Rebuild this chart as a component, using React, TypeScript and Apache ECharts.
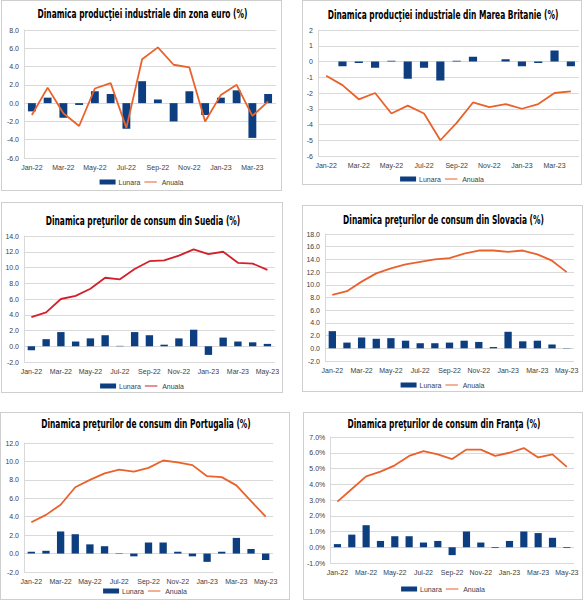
import { useEffect, useRef } from 'react';
import * as echarts from 'echarts';

const months16 = ['Jan-22', 'Feb-22', 'Mar-22', 'Apr-22', 'May-22', 'Jun-22', 'Jul-22', 'Aug-22', 'Sep-22', 'Oct-22', 'Nov-22', 'Dec-22', 'Jan-23', 'Feb-23', 'Mar-23', 'Apr-23'];
const months17 = [...months16, 'May-23'];

// zona euro - productie industriala
const euroLunara = [-0.9, 0.6, -1.6, -0.2, 1.3, 1.0, -2.8, 2.4, 0.4, -2.0, 1.3, -1.3, 0.6, 1.4, -3.8, 1.0];
const euroAnuala = [-1.3, 1.7, -1.1, -2.5, 1.6, 2.2, -2.7, 4.8, 6.1, 4.2, 3.9, -2.0, 0.9, 2.0, -1.4, 0.2];

// Marea Britanie - productie industriala
const ukLunara = [0, -0.3, -0.1, -0.4, 0.05, -1.1, -0.4, -1.2, 0.05, 0.3, 0, 0.15, -0.3, -0.1, 0.7, -0.3];
const ukAnuala = [-0.9, -1.5, -2.4, -2.0, -3.3, -2.8, -3.3, -5.0, -3.9, -2.6, -2.9, -2.7, -3.0, -2.7, -2.0, -1.9];

// Suedia - preturi de consum
const seLunara = [-0.5, 0.9, 1.8, 0.6, 1.0, 1.4, 0.05, 1.8, 1.4, 0.2, 1.0, 2.1, -1.1, 1.1, 0.6, 0.5, 0.3];
const seAnuala = [3.7, 4.3, 6.0, 6.4, 7.3, 8.7, 8.5, 9.8, 10.8, 10.9, 11.5, 12.3, 11.7, 12.0, 10.6, 10.5, 9.7];

// Slovacia - preturi de consum
const skLunara = [2.7, 0.9, 1.7, 1.5, 1.6, 1.2, 0.8, 0.8, 0.9, 1.2, 1.0, 0.2, 2.6, 1.1, 1.2, 0.6, 0.05];
const skAnuala = [8.4, 9.0, 10.5, 11.8, 12.6, 13.2, 13.6, 14.0, 14.2, 14.9, 15.4, 15.4, 15.2, 15.4, 14.8, 13.8, 12.0];

// Portugalia - preturi de consum
const ptLunara = [0.2, 0.3, 2.4, 2.1, 1.0, 0.8, -0.05, -0.3, 1.2, 1.2, 0.2, -0.3, -0.9, 0.2, 1.7, 0.5, -0.7];
const ptAnuala = [3.4, 4.2, 5.3, 7.2, 8.0, 8.7, 9.1, 8.9, 9.3, 10.1, 9.9, 9.6, 8.4, 8.3, 7.4, 5.7, 4.0];

// Franta - preturi de consum (%)
const frLunara = [0.2, 0.8, 1.4, 0.4, 0.7, 0.7, 0.3, 0.4, -0.5, 1.0, 0.3, -0.05, 0.4, 1.0, 0.9, 0.6, -0.05];
const frAnuala = [2.9, 3.7, 4.5, 4.8, 5.2, 5.8, 6.1, 5.9, 5.6, 6.2, 6.2, 5.8, 6.0, 6.3, 5.7, 5.9, 5.1];

const BAR_COLOR = '#0d3f80';
const ORANGE = '#e9622c';
const RED = '#d2202c';
const LABEL = '#404040';
const GRIDLINE = '#d9d9d9';
const FONT = '"Liberation Sans", Arial, sans-serif';
// thin horizontal stroke for the line legend entry (padded with empty moves)
const LINE_ICON = 'path://M0,0L0.01,0M0,3.2L20,3.2L20,4.8L0,4.8ZM0,8L0.01,8';

interface PanelProps {
  title: string;
  months: string[];
  lunara: number[];
  anuala: number[];
  lineColor: string;
  min: number;
  max: number;
  step: number;
  fmt: (v: number) => string;
  box: { left: number; top: number; width: number; height: number };
  grid: { left: number; top: number; width: number; height: number };
  titleY: number;
  legendY: number;
}

function Panel(p: PanelProps) {
  const ref = useRef<HTMLDivElement>(null);

  useEffect(() => {
    if (!ref.current) return;
    const chart = echarts.init(ref.current, undefined, { renderer: 'svg' });
    chart.setOption({
      animation: false,
      graphic: [
        {
          type: 'text',
          x: p.box.width / 2,
          y: p.titleY,
          scaleX: 0.64,
          style: {
            text: p.title,
            align: 'center',
            verticalAlign: 'middle',
            fontFamily: '"Liberation Sans Narrow", "DejaVu Sans Condensed", sans-serif',
            fontWeight: 'bold',
            fontSize: 13,
            fill: '#000',
          },
        },
      ],
      grid: { ...p.grid, containLabel: false },
      legend: {
        top: p.legendY - 4.5,
        left: 'center',
        padding: 0,
        itemWidth: 16,
        itemHeight: 5,
        itemGap: 4,
        textStyle: { fontSize: 7, color: LABEL, fontFamily: FONT, padding: [0, 0, 0, -2] },
        data: [
          { name: 'Lunara', icon: 'rect' },
          { name: 'Anuala', icon: LINE_ICON },
        ],
      },
      xAxis: {
        type: 'category',
        data: p.months,
        axisLine: { show: false },
        axisTick: { show: false },
        axisLabel: { interval: 1, fontSize: 7, color: LABEL, fontFamily: FONT, margin: 6 },
      },
      yAxis: {
        type: 'value',
        min: p.min,
        max: p.max,
        interval: p.step,
        axisLine: { show: true, lineStyle: { color: GRIDLINE } },
        axisTick: { show: false },
        splitLine: { lineStyle: { color: GRIDLINE, width: 1 } },
        axisLabel: { fontSize: 7, color: LABEL, fontFamily: FONT, margin: 5, formatter: p.fmt },
      },
      series: [
        {
          name: 'Lunara',
          type: 'bar',
          data: p.lunara,
          barWidth: '50%',
          itemStyle: { color: BAR_COLOR },
        },
        {
          name: 'Anuala',
          type: 'line',
          data: p.anuala,
          symbol: 'none',
          lineStyle: { color: p.lineColor, width: 1.8 },
          itemStyle: { color: p.lineColor },
        },
      ],
    });
    return () => chart.dispose();
  }, [p]);

  return (
    <div
      style={{
        position: 'absolute',
        left: p.box.left,
        top: p.box.top,
        width: p.box.width,
        height: p.box.height,
        border: '1px solid #cfcfcf',
        boxSizing: 'border-box',
        background: '#fff',
      }}
    >
      <div ref={ref} style={{ width: '100%', height: '100%' }} />
    </div>
  );
}

const one = (v: number) => v.toFixed(1);
const int = (v: number) => String(Math.round(v));
const pct = (v: number) => v.toFixed(1) + '%';

const panels: PanelProps[] = [
  {
    title: 'Dinamica producţiei industriale din zona euro (%)',
    months: months16, lunara: euroLunara, anuala: euroAnuala, lineColor: ORANGE,
    min: -6, max: 8, step: 2, fmt: one,
    box: { left: 1, top: 0, width: 281, height: 191 },
    grid: { left: 22, top: 29, width: 252, height: 128 },
    titleY: 13, legendY: 182,
  },
  {
    title: 'Dinamica producţiei industriale din Marea Britanie (%)',
    months: months16, lunara: ukLunara, anuala: ukAnuala, lineColor: ORANGE,
    min: -6, max: 2, step: 1, fmt: int,
    box: { left: 302, top: 0, width: 280, height: 185 },
    grid: { left: 15, top: 29, width: 261, height: 126 },
    titleY: 14, legendY: 179,
  },
  {
    title: 'Dinamica preţurilor de consum din Suedia (%)',
    months: months17, lunara: seLunara, anuala: seAnuala, lineColor: RED,
    min: -2, max: 14, step: 2, fmt: one,
    box: { left: 1, top: 202, width: 282, height: 191 },
    grid: { left: 22, top: 33, width: 254, height: 126 },
    titleY: 18, legendY: 184,
  },
  {
    title: 'Dinamica preţurilor de consum din Slovacia (%)',
    months: months17, lunara: skLunara, anuala: skAnuala, lineColor: ORANGE,
    min: -2, max: 18, step: 2, fmt: one,
    box: { left: 302, top: 205, width: 281, height: 187 },
    grid: { left: 22, top: 28, width: 249, height: 127 },
    titleY: 14, legendY: 180,
  },
  {
    title: 'Dinamica preţurilor de consum din Portugalia (%)',
    months: months17, lunara: ptLunara, anuala: ptAnuala, lineColor: ORANGE,
    min: -2, max: 12, step: 2, fmt: one,
    box: { left: 0, top: 412, width: 290, height: 188 },
    grid: { left: 23, top: 30, width: 249, height: 129 },
    titleY: 11, legendY: 179,
  },
  {
    title: 'Dinamica preţurilor de consum din Franţa (%)',
    months: months17, lunara: frLunara, anuala: frAnuala, lineColor: ORANGE,
    min: -1, max: 7, step: 1, fmt: pct,
    box: { left: 303, top: 412, width: 280, height: 188 },
    grid: { left: 23, top: 24, width: 247, height: 126 },
    titleY: 11, legendY: 177,
  },
];

export default function App() {
  return (
    <div style={{ position: 'absolute', left: 0, top: 0, width: 583, height: 600, background: '#fff' }}>
      {panels.map((p) => (
        <Panel key={p.title} {...p} />
      ))}
    </div>
  );
}
